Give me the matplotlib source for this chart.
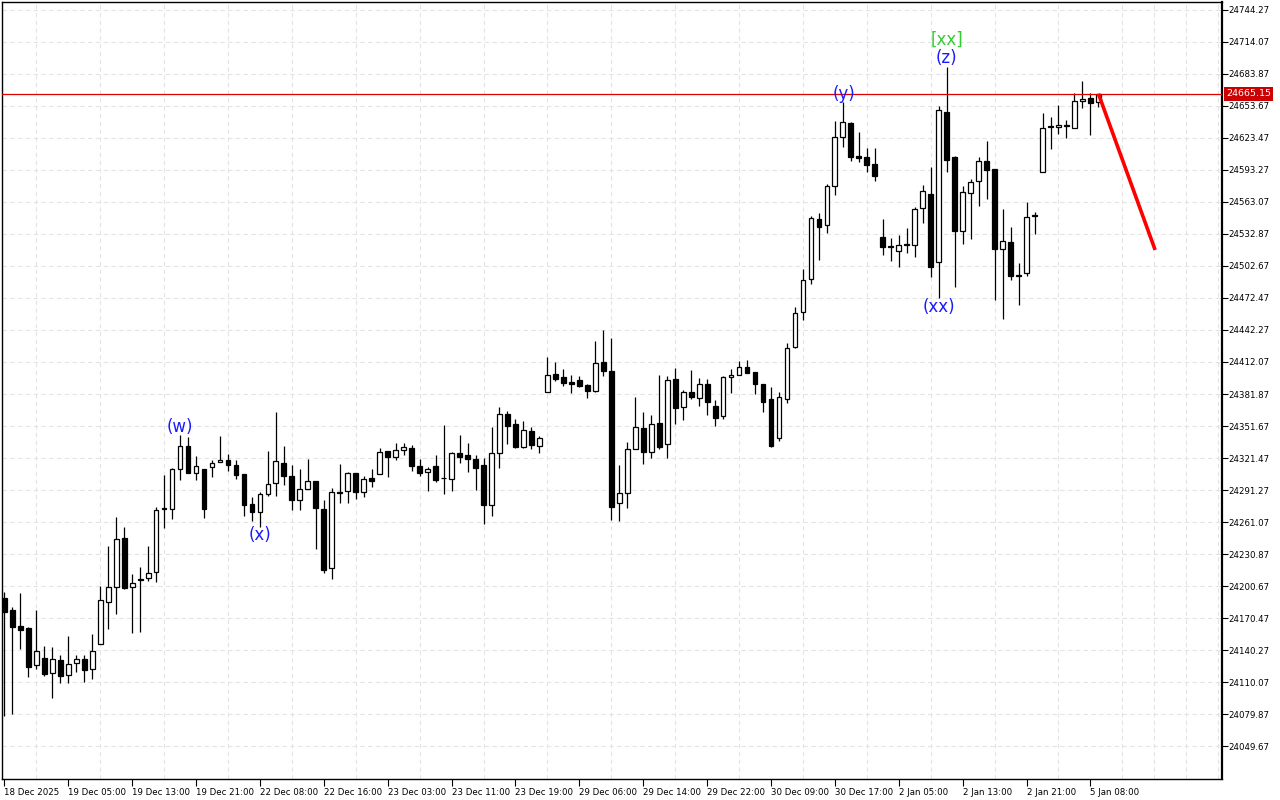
import matplotlib
matplotlib.use('Agg')
import matplotlib.pyplot as plt
import numpy as np

# hourly candles (bar index 0..137)
opens = [24189.1, 24178.0, 24162.9, 24161.0, 24125.8, 24132.7, 24118.3, 24130.5, 24116.4, 24127.7,
         24131.5, 24122.1, 24145.6, 24185.9, 24200.0, 24245.7, 24200.0, 24207.0, 24207.9, 24213.6,
         24274.0, 24273.1, 24310.8, 24332.8, 24307.0, 24311.4, 24312.7, 24317.4, 24319.3, 24314.6,
         24306.4, 24277.8, 24270.2, 24287.8, 24297.6, 24316.7, 24304.2, 24281.5, 24291.9, 24299.8,
         24273.3, 24217.4, 24289.4, 24290.0, 24307.3, 24289.1, 24302.3, 24306.1, 24327.8, 24322.7,
         24328.7, 24330.6, 24313.6, 24308.0, 24313.6, 24302.8, 24301.4, 24325.9, 24324.0, 24320.5,
         24314.6, 24276.8, 24326.5, 24363.0, 24353.3, 24332.1, 24346.9, 24332.5, 24383.5, 24400.5,
         24397.6, 24393.2, 24394.8, 24390.1, 24385.0, 24411.8, 24403.6, 24278.7, 24288.2, 24329.7,
         24349.8, 24326.8, 24354.2, 24334.4, 24395.7, 24369.3, 24383.5, 24378.4, 24391.0, 24370.3,
         24361.4, 24397.6, 24399.5, 24407.1, 24402.3, 24391.0, 24376.9, 24340.6, 24376.9, 24425.9,
         24459.0, 24490.1, 24546.7, 24541.1, 24578.2, 24624.7, 24637.6, 24606.5, 24605.5, 24598.6,
         24530.0, 24521.3, 24516.5, 24523.7, 24522.8, 24557.1, 24570.6, 24506.2, 24648.0, 24605.5,
         24535.4, 24571.3, 24582.6, 24601.5, 24594.2, 24518.4, 24525.3, 24494.2, 24495.8, 24551.1,
         24591.1, 24634.8, 24633.6, 24635.5, 24632.6, 24658.1, 24661.2, 24657.2]
highs = [24195.0, 24180.6, 24193.8, 24161.7, 24178.0, 24144.0, 24143.1, 24135.5, 24153.5, 24135.5,
         24135.5, 24155.1, 24200.7, 24238.4, 24265.5, 24256.1, 24211.7, 24218.3, 24238.4, 24274.9,
         24305.4, 24311.7, 24343.2, 24341.6, 24323.4, 24311.4, 24319.6, 24342.5, 24325.2, 24319.3,
         24306.4, 24284.7, 24289.7, 24328.1, 24364.9, 24332.8, 24314.9, 24310.8, 24320.2, 24299.8,
         24281.8, 24292.9, 24315.8, 24308.0, 24307.3, 24304.2, 24310.8, 24330.6, 24327.8, 24335.6,
         24335.3, 24333.5, 24320.5, 24313.3, 24324.0, 24352.3, 24326.8, 24343.2, 24335.6, 24324.0,
         24321.2, 24350.4, 24369.3, 24365.5, 24358.3, 24356.4, 24350.4, 24342.2, 24416.8, 24411.8,
         24405.2, 24399.5, 24398.6, 24391.0, 24431.6, 24442.3, 24434.4, 24314.9, 24336.3, 24378.8,
         24364.6, 24361.8, 24399.8, 24398.6, 24406.4, 24385.6, 24404.2, 24396.7, 24395.7, 24375.9,
         24398.6, 24405.2, 24412.7, 24413.7, 24402.3, 24391.0, 24388.2, 24383.5, 24429.7, 24463.7,
         24499.8, 24549.9, 24552.7, 24580.1, 24639.8, 24657.4, 24638.9, 24629.1, 24614.3, 24614.0,
         24547.0, 24528.8, 24531.6, 24538.8, 24558.3, 24579.1, 24595.8, 24653.7, 24690.2, 24606.2,
         24578.2, 24584.8, 24605.8, 24620.6, 24594.2, 24556.5, 24539.2, 24505.8, 24562.8, 24553.9,
         24646.8, 24643.0, 24654.6, 24640.5, 24665.9, 24677.3, 24665.9, 24665.15]
lows = [24078.0, 24079.6, 24141.5, 24115.1, 24122.6, 24116.0, 24095.2, 24109.4, 24109.4, 24119.8,
        24110.4, 24113.2, 24145.6, 24160.1, 24174.2, 24197.8, 24156.6, 24157.5, 24205.7, 24204.7,
        24255.7, 24264.2, 24300.7, 24307.6, 24300.7, 24265.1, 24303.8, 24317.4, 24309.2, 24301.6,
        24267.0, 24262.3, 24256.6, 24285.9, 24285.9, 24296.0, 24272.1, 24272.7, 24291.9, 24235.9,
        24212.7, 24207.0, 24278.7, 24278.7, 24283.1, 24284.9, 24294.4, 24306.1, 24303.8, 24319.6,
        24324.3, 24309.5, 24304.8, 24290.6, 24299.1, 24287.8, 24290.3, 24317.0, 24308.5, 24291.3,
        24258.9, 24267.0, 24312.3, 24335.0, 24331.2, 24331.2, 24329.7, 24325.9, 24383.5, 24394.4,
        24389.7, 24383.1, 24388.8, 24378.4, 24384.0, 24399.1, 24263.0, 24262.0, 24274.6, 24329.7,
        24316.1, 24321.8, 24330.2, 24321.8, 24354.0, 24357.3, 24377.4, 24370.8, 24362.3, 24352.0,
        24358.6, 24383.1, 24399.5, 24402.0, 24382.2, 24365.2, 24332.1, 24337.8, 24373.7, 24425.0,
        24451.7, 24485.4, 24508.3, 24533.5, 24569.4, 24615.3, 24602.0, 24601.1, 24591.1, 24583.2,
        24513.0, 24507.7, 24502.0, 24514.7, 24511.4, 24543.0, 24492.0, 24472.2, 24591.7, 24483.1,
        24523.1, 24527.9, 24559.6, 24566.2, 24470.6, 24452.4, 24489.5, 24465.9, 24493.2, 24532.9,
        24591.1, 24613.4, 24627.5, 24623.8, 24632.6, 24651.8, 24626.6, 24653.0]
closes = [24176.4, 24162.3, 24159.1, 24124.5, 24139.0, 24117.9, 24131.5, 24116.0, 24126.8, 24131.5,
          24121.7, 24139.0, 24187.5, 24200.0, 24244.7, 24198.5, 24203.2, 24206.0, 24212.7, 24272.1,
          24273.1, 24310.8, 24332.8, 24307.6, 24313.6, 24273.6, 24316.5, 24319.3, 24314.6, 24305.7,
          24277.1, 24270.8, 24287.2, 24296.6, 24318.4, 24304.8, 24281.5, 24291.9, 24299.5, 24274.0,
          24216.1, 24289.1, 24288.2, 24307.3, 24289.1, 24301.4, 24300.0, 24326.8, 24322.7, 24329.0,
          24331.6, 24313.6, 24307.6, 24310.8, 24301.0, 24302.4, 24325.9, 24322.7, 24320.8, 24312.3,
          24277.4, 24325.9, 24362.7, 24352.0, 24331.8, 24347.6, 24334.0, 24340.1, 24399.5, 24396.3,
          24392.5, 24391.0, 24389.7, 24385.0, 24410.8, 24403.9, 24275.5, 24288.2, 24329.7, 24351.0,
          24327.4, 24353.3, 24332.1, 24394.8, 24368.9, 24383.5, 24379.3, 24391.0, 24374.6, 24359.5,
          24397.6, 24399.5, 24407.1, 24402.0, 24391.6, 24374.0, 24332.8, 24378.8, 24425.0, 24458.0,
          24489.5, 24547.7, 24539.2, 24578.2, 24624.1, 24638.3, 24605.8, 24604.3, 24598.3, 24587.3,
          24520.9, 24520.3, 24522.2, 24522.5, 24556.2, 24573.2, 24502.0, 24649.9, 24602.4, 24536.0,
          24572.2, 24581.7, 24601.5, 24593.0, 24519.0, 24526.0, 24493.5, 24492.9, 24548.6, 24549.6,
          24632.6, 24633.6, 24635.5, 24634.5, 24658.1, 24660.0, 24656.2, 24665.15]

time_labels = ['18 Dec 2025', '19 Dec 05:00', '19 Dec 13:00', '19 Dec 21:00', '22 Dec 08:00',
               '22 Dec 16:00', '23 Dec 03:00', '23 Dec 11:00', '23 Dec 19:00', '29 Dec 06:00',
               '29 Dec 14:00', '29 Dec 22:00', '30 Dec 09:00', '30 Dec 17:00', '2 Jan 05:00',
               '2 Jan 13:00', '2 Jan 21:00', '5 Jan 08:00']
price_ticks = [24744.27, 24714.07, 24683.87, 24653.67, 24623.47, 24593.27, 24563.07, 24532.87,
               24502.67, 24472.47, 24442.27, 24412.07, 24381.87, 24351.67, 24321.47, 24291.27,
               24261.07, 24230.87, 24200.67, 24170.47, 24140.27, 24110.07, 24079.87, 24049.67]
last_price = 24665.15
forecast_x = [137, 144.1]
forecast_y = [24665.15, 24517.8]
# wave marks: text, bar, price, colour
wave_text = ['(w)', '(x)', '(y)', '(z)', '[xx]', '(xx)']
wave_bar = [22, 32, 105.1, 118, 118, 117]
wave_price = [24350.7, 24248.8, 24665.0, 24699.0, 24716.0, 24464.0]
wave_color = ['#1a1aff', '#1a1aff', '#1a1aff', '#1a1aff', '#33cc33', '#1a1aff']

o = np.array(opens); h = np.array(highs); l = np.array(lows); c = np.array(closes)
x = np.arange(len(o))
bull = c >= o

fig = plt.figure(figsize=(12.8, 8), dpi=100)
ax = fig.add_axes([0.0016, 0.026, 0.953, 0.971])
ax.set_xlim(-0.29, 152.46)
ax.set_ylim(24018.5, 24751.3)

# grid
ax.set_yticks(price_ticks)
ax.set_xticks(np.arange(0, 153, 4), minor=True)
ax.grid(True, which='major', axis='y', color='#e4e4e4', linestyle=(0, (4, 3)), lw=0.8)
ax.grid(True, which='minor', axis='x', color='#e4e4e4', linestyle=(0, (4, 3)), lw=0.8)
ax.set_axisbelow(True)

# candles
ax.vlines(x, l, h, color='black', lw=0.9, zorder=2)
body_lo = np.minimum(o, c)
body_h = np.abs(c - o)
ax.bar(x, body_h, bottom=body_lo, width=0.6, color=np.where(bull, 'white', 'black'),
       edgecolor='black', lw=0.9, zorder=3)

# price line and forecast
ax.axhline(last_price, color='#e00000', lw=0.9, zorder=4)
ax.plot(forecast_x, forecast_y, color='#ff0000', lw=2.6, zorder=5, solid_capstyle='butt')

for t, bx, py, col in zip(wave_text, wave_bar, wave_price, wave_color):
    ax.text(bx, py, t, color=col, fontsize=12, ha='center', va='center', zorder=6)

# axes styling
ax.yaxis.tick_right()
ax.tick_params(axis='y', direction='out', length=4, width=0.8, labelsize=6.2, pad=1)
ax.set_yticklabels(['%.2f' % v for v in price_ticks])
ax.set_xticks(np.arange(0, len(time_labels) * 8, 8))
ax.set_xticklabels(time_labels, ha='left')
ax.tick_params(axis='x', which='major', direction='out', length=5, width=0.8, labelsize=6.2, pad=1)
ax.tick_params(axis='x', which='minor', length=0)
for s in ax.spines.values():
    s.set_color('black')
    s.set_linewidth(1.0)
ax.spines['right'].set_linewidth(1.6)

ax.annotate('%.2f' % last_price, xy=(1.0, last_price), xycoords=('axes fraction', 'data'),
            xytext=(3, 0), textcoords='offset points', ha='left', va='center',
            fontsize=6.8, color='white',
            bbox=dict(boxstyle='square,pad=0.25', fc='#cc0000', ec='none'))

fig.savefig('out.png', dpi=100)
